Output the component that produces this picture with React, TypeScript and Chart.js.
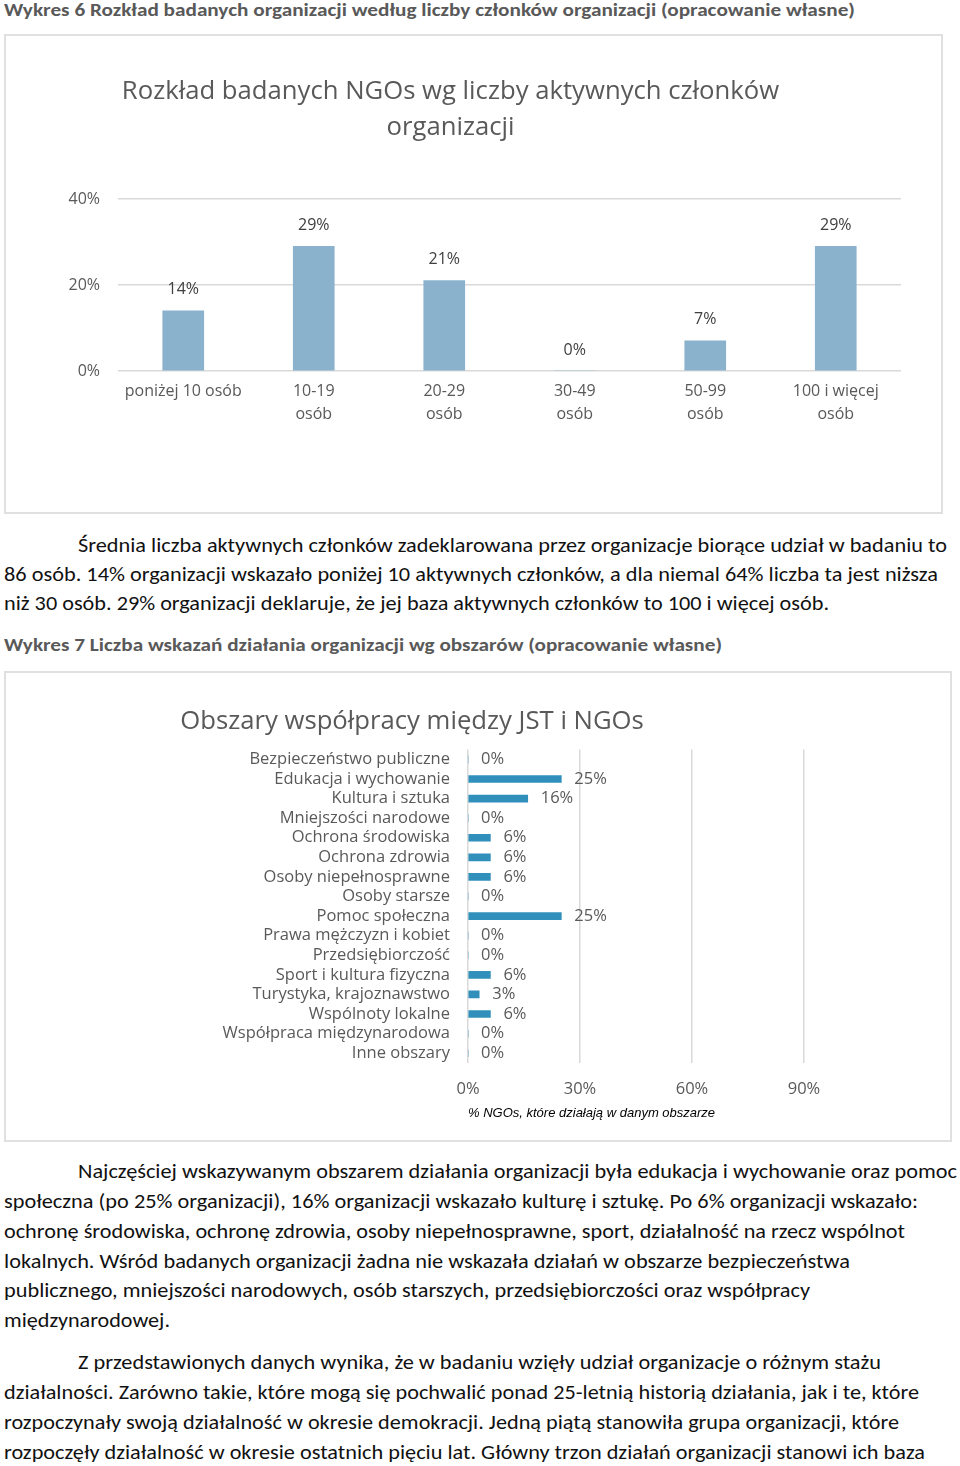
import React, { useEffect, useLayoutEffect, useRef } from "react";
import { Chart, registerables } from "chart.js";

Chart.register(...registerables);

// ---------- data ----------
const sizeCategories: string[][] = [
  ["poniżej 10 osób"],
  ["10-19", "osób"],
  ["20-29", "osób"],
  ["30-49", "osób"],
  ["50-99", "osób"],
  ["100 i więcej", "osób"],
];
const sizeValues: number[] = [14, 29, 21, 0, 7, 29];
const sizeTicks = { min: 0, max: 40, step: 20 };

const areaCategories: string[] = [
  "Bezpieczeństwo publiczne",
  "Edukacja i wychowanie",
  "Kultura i sztuka",
  "Mniejszości narodowe",
  "Ochrona środowiska",
  "Ochrona zdrowia",
  "Osoby niepełnosprawne",
  "Osoby starsze",
  "Pomoc społeczna",
  "Prawa mężczyzn i kobiet",
  "Przedsiębiorczość",
  "Sport i kultura fizyczna",
  "Turystyka, krajoznawstwo",
  "Wspólnoty lokalne",
  "Współpraca międzynarodowa",
  "Inne obszary",
];
const areaValues: number[] = [0, 25, 16, 0, 6, 6, 6, 0, 25, 0, 0, 6, 3, 6, 0, 0];
const areaTicks = { min: 0, max: 90, step: 30 };

const chart1Title = ["Rozkład badanych NGOs wg liczby aktywnych członków", "organizacji"];
const chart2Title = "Obszary współpracy między JST i NGOs";
const chart2AxisTitle = "% NGOs, które działają w danym obszarze";

const CHART_FONT = "'Open Sans', 'Noto Sans', sans-serif";
const BODY_FONT = "Carlito, Lato, 'Open Sans', sans-serif";

// ---------- helpers ----------
type LabelOpts = { color: string; dx: number; dy: number; align: CanvasTextAlign; size: number };
const valueLabels = {
  id: "valueLabels",
  afterDatasetsDraw(chart: any, _args: any, opts: LabelOpts) {
    const { ctx } = chart;
    const meta = chart.getDatasetMeta(0);
    const data = chart.data.datasets[0].data as number[];
    ctx.save();
    ctx.font = `${opts.size}px ${CHART_FONT}`;
    ctx.fillStyle = opts.color;
    ctx.textAlign = opts.align;
    ctx.textBaseline = "middle";
    meta.data.forEach((el: any, i: number) => {
      ctx.fillText(`${data[i]}%`, el.x + opts.dx, el.y + opts.dy);
    });
    ctx.restore();
  },
};

function FitLine(props: { x: number; y: number; right: number; text: string; bold?: boolean; color?: string; size?: number }) {
  const ref = useRef<HTMLSpanElement>(null);
  const { x, y, right, text, bold, color, size } = props;
  useLayoutEffect(() => {
    const el = ref.current;
    if (!el) return;
    el.style.transform = "none";
    const w = el.getBoundingClientRect().width;
    if (w > 0) el.style.transform = `scaleX(${(right - x) / w})`;
  }, [x, right, text]);
  const fs = size ?? 19.5;
  return (
    <span
      ref={ref}
      style={{
        position: "absolute",
        left: x,
        top: y - 13,
        whiteSpace: "nowrap",
        transformOrigin: "0 0",
        fontFamily: BODY_FONT,
        fontSize: fs,
        lineHeight: "26px",
        fontWeight: bold ? 700 : 400,
        color: color ?? "#111",
      }}
    >
      {text}
    </span>
  );
}

function SizeChart() {
  const ref = useRef<HTMLCanvasElement>(null);
  useEffect(() => {
    if (!ref.current) return;
    const chart = new Chart(ref.current, {
      type: "bar",
      data: {
        labels: sizeCategories,
        datasets: [
          {
            data: sizeValues,
            backgroundColor: "#8BB2CD",
            barThickness: 41,
          },
        ],
      },
      plugins: [valueLabels],
      options: {
        animation: false,
        responsive: false,
        devicePixelRatio: 1,
        layout: { padding: 0 },
        plugins: {
          legend: { display: false },
          tooltip: { enabled: false },
          title: {
            display: true,
            text: chart1Title,
            color: "#595959",
            font: { family: CHART_FONT, size: 25.7, weight: "normal", lineHeight: 1.4 },
            padding: { top: 39, bottom: 53 },
          },
          valueLabels: { color: "#404040", dx: 0, dy: -21, align: "center", size: 16 },
        } as any,
        scales: {
          x: {
            grid: { display: false, drawTicks: false },
            border: { display: false },
            ticks: {
              color: "#595959",
              font: { family: CHART_FONT, size: 16, lineHeight: 1.44 },
              padding: 9,
              maxRotation: 0,
              autoSkip: false,
            },
            afterFit: (s: any) => {
              s.height = 141;
              s.paddingLeft = 0;
              s.paddingRight = 0;
            },
          },
          y: {
            min: sizeTicks.min,
            max: sizeTicks.max,
            grid: { color: "#d9d9d9", drawTicks: false, lineWidth: 1.5 },
            border: { display: false },
            ticks: {
              stepSize: sizeTicks.step,
              color: "#595959",
              font: { family: CHART_FONT, size: 16 },
              padding: 18,
              callback: (v: any) => `${v}%`,
            },
            afterFit: (s: any) => {
              s.width = 118;
            },
          },
        },
      },
    });
    return () => chart.destroy();
  }, []);
  return (
    <canvas
      ref={ref}
      width={901}
      height={477}
      style={{ position: "absolute", left: 0, top: 35, width: 901, height: 477 }}
    />
  );
}

function AreaChart() {
  const ref = useRef<HTMLCanvasElement>(null);
  useEffect(() => {
    if (!ref.current) return;
    const chart = new Chart(ref.current, {
      type: "bar",
      data: {
        labels: areaCategories,
        datasets: [
          {
            data: areaValues,
            backgroundColor: "#3190BB",
            barThickness: 7,
          },
        ],
      },
      plugins: [valueLabels],
      options: {
        indexAxis: "y",
        animation: false,
        responsive: false,
        devicePixelRatio: 1,
        layout: { padding: { right: 17, left: 0, top: 0, bottom: 0 } },
        plugins: {
          legend: { display: false },
          tooltip: { enabled: false },
          title: {
            display: true,
            text: chart2Title,
            color: "#595959",
            font: { family: CHART_FONT, size: 25.7, weight: "normal", lineHeight: 1.385 },
            padding: { top: 32, bottom: 10 },
          },
          valueLabels: { color: "#595959", dx: 13, dy: 0, align: "left", size: 16.5 },
        } as any,
        scales: {
          x: {
            min: areaTicks.min,
            max: areaTicks.max,
            grid: { color: "#d9d9d9", drawTicks: false, lineWidth: 1.5 },
            border: { display: false },
            ticks: {
              stepSize: areaTicks.step,
              color: "#595959",
              font: { family: CHART_FONT, size: 16.5 },
              padding: 16,
              callback: (v: any) => `${v}%`,
            },
            title: {
              display: true,
              text: chart2AxisTitle,
              align: "start",
              color: "#000",
              font: { family: "'Liberation Sans', Arial, sans-serif", size: 13, style: "italic" },
              padding: { top: 0, bottom: 19 },
            },
            afterFit: (s: any) => {
              s.height = 77;
              s.paddingLeft = 0;
              s.paddingRight = 0;
            },
          },
          y: {
            grid: { display: false, drawTicks: false },
            border: { display: false },
            ticks: {
              color: "#595959",
              font: { family: CHART_FONT, size: 16.5 },
              padding: 18,
              autoSkip: false,
            },
            afterFit: (s: any) => {
              s.width = 448;
            },
          },
        },
      },
    });
    return () => chart.destroy();
  }, []);
  return (
    <canvas
      ref={ref}
      width={801}
      height={468}
      style={{ position: "absolute", left: 20, top: 672, width: 801, height: 468 }}
    />
  );
}

const boxStyle = (left: number, top: number, w: number, h: number): React.CSSProperties => ({
  position: "absolute",
  left,
  top,
  width: w,
  height: h,
  border: "2px solid #e0e0e0",
  boxSizing: "border-box",
});

export default function App() {
  const gray = "#595959";
  return (
    <div style={{ position: "absolute", left: 0, top: 0, width: 960, height: 1466, background: "#fff", overflow: "hidden" }}>
      <FitLine x={4} right={855} y={10} bold color={gray} size={18.5} text="Wykres 6 Rozkład badanych organizacji według liczby członków organizacji (opracowanie własne)" />
      <div style={boxStyle(4, 34, 939, 480)} />
      <SizeChart />

      <FitLine x={78} right={947} y={545} text="Średnia liczba aktywnych członków zadeklarowana przez organizacje biorące udział w badaniu to" />
      <FitLine x={4} right={938} y={574} text="86 osób. 14% organizacji wskazało poniżej 10 aktywnych członków, a dla niemal 64% liczba ta jest niższa" />
      <FitLine x={4} right={829} y={603} text="niż 30 osób. 29% organizacji deklaruje, że jej baza aktywnych członków to 100 i więcej osób." />

      <FitLine x={4} right={722} y={645} bold color={gray} size={18.5} text="Wykres 7 Liczba wskazań działania organizacji wg obszarów (opracowanie własne)" />
      <div style={boxStyle(4, 671, 948, 471)} />
      <AreaChart />

      <FitLine x={78} right={957} y={1171} text="Najczęściej wskazywanym obszarem działania organizacji była edukacja i wychowanie oraz pomoc" />
      <FitLine x={4} right={918} y={1201} text="społeczna (po 25% organizacji), 16% organizacji wskazało kulturę i sztukę. Po 6% organizacji wskazało:" />
      <FitLine x={4} right={905} y={1231} text="ochronę środowiska, ochronę zdrowia, osoby niepełnosprawne, sport, działalność na rzecz wspólnot" />
      <FitLine x={4} right={850} y={1261} text="lokalnych. Wśród badanych organizacji żadna nie wskazała działań w obszarze bezpieczeństwa" />
      <FitLine x={4} right={810} y={1290} text="publicznego, mniejszości narodowych, osób starszych, przedsiębiorczości oraz współpracy" />
      <FitLine x={4} right={170} y={1320} text="międzynarodowej." />

      <FitLine x={78} right={881} y={1362} text="Z przedstawionych danych wynika, że w badaniu wzięły udział organizacje o różnym stażu" />
      <FitLine x={4} right={919} y={1392} text="działalności. Zarówno takie, które mogą się pochwalić ponad 25-letnią historią działania, jak i te, które" />
      <FitLine x={4} right={899} y={1422} text="rozpoczynały swoją działalność w okresie demokracji. Jedną piątą stanowiła grupa organizacji, które" />
      <FitLine x={4} right={925} y={1452} text="rozpoczęły działalność w okresie ostatnich pięciu lat. Główny trzon działań organizacji stanowi ich baza" />
    </div>
  );
}
